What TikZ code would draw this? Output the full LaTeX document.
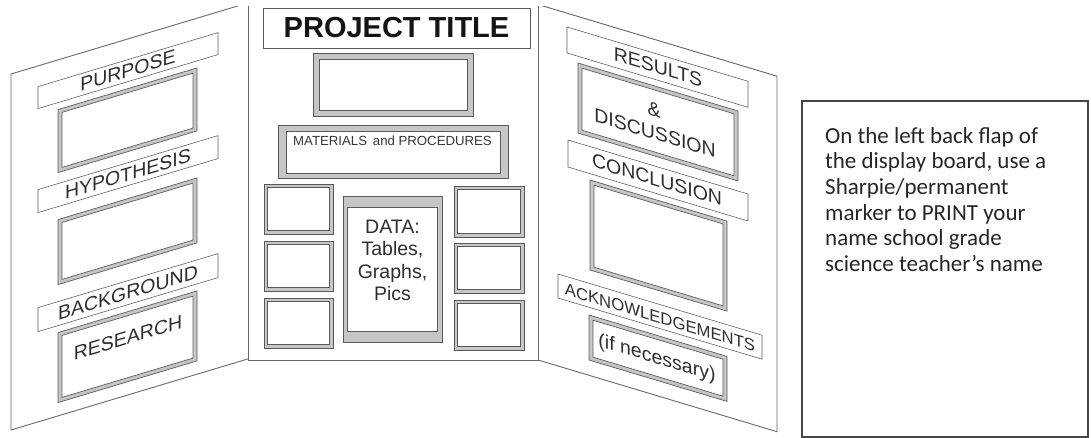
\documentclass[tikz,border=0pt]{standalone}
\usepackage{fontspec}
\setmainfont{Liberation Sans}
\newfontfamily\notefont{Carlito}

% A display frame: a grey band between an outer and an inner outline
\newcommand\boardframe[5]{%
  \path[band] (#1,#2) rectangle (#3,#4);
  \path[well] (#1+#5,#2+#5) rectangle (#3-#5,#4-#5);}

\begin{document}
\begin{tikzpicture}[x=1pt,y=-1pt,
  edge/.style={draw=gray!80!black, line width=0.9pt},
  bar/.style={draw=gray!75!black, line width=0.6pt, fill=white},
  band/.style={draw=gray!70!black, line width=0.7pt, fill=gray!45},
  well/.style={draw=gray!70!black, line width=0.7pt, fill=white},
  tag/.style={font=\fontsize{19.5}{22}\selectfont, text=black!82, inner sep=0pt, transform shape},
  notetext/.style={font=\notefont\fontsize{23}{25.6}\selectfont, text=black!85, inner sep=0pt, anchor=base west},
]
\useasboundingbox (0,0) rectangle (1091,438);

\begin{scope}
  \clip (0,7) rectangle (1091,438);
  % left wing of the board
  \begin{scope}[shift={(11,0)}, yslant=0.3]
    \draw[edge] (237,74) -- (0,74) -- (0,430) -- (237,430);
  \end{scope}
  % centre panel
  \draw[edge] (248,0) -- (248,360) -- (538,360) -- (538,0);
  % right wing of the board
  \begin{scope}[shift={(538,0)}, yslant=-0.3]
    \draw[edge] (0,4.5) -- (239,4.5) -- (239,360) -- (0,360);
  \end{scope}
\end{scope}

% ---- left wing: purpose, hypothesis, background research
\begin{scope}[shift={(11,0)}, yslant=0.3]
  \path[bar] (27,94.7) rectangle (207,116.7);
  \node[tag] (purpose) at (117,105.7) {PURPOSE};
  \boardframe{47}{123.7}{186}{186.7}{4}
  \path[bar] (27,197.7) rectangle (207,220.7);
  \node[tag] (hypothesis) at (117,209.2) {HYPOTHESIS};
  \boardframe{47}{233.7}{186}{298.7}{4}
  \path[bar] (27,315.7) rectangle (207,339.7);
  \node[tag] (background) at (117,327.7) {BACKGROUND};
  \boardframe{47}{346.7}{186}{416.7}{4}
  \node[tag] (research) at (117,372.7) {RESEARCH};
\end{scope}

% ---- centre panel
\node[draw=gray!70!black, line width=0.8pt, minimum width=267pt, minimum height=40pt,
      inner sep=0pt, font=\fontsize{29}{32}\selectfont\bfseries, text=black!92]
      (title) at (396.5,28) {PROJECT TITLE};
\boardframe{313}{53}{473}{116}{6}
\path[band] (278,125) rectangle (508,178);
\path[well] (286,131) rectangle (500,173);
\node[font=\fontsize{13.2}{15}\selectfont, text=black!78, inner sep=0pt]
      (materials) at (392.5,140.5) {MATERIALS\, and PROCEDURES};
\boardframe{264}{184}{333}{234}{3.5}
\boardframe{264}{241}{333}{291}{3.5}
\boardframe{264}{298}{333}{348}{3.5}
\boardframe{454}{186}{524}{237}{3.5}
\boardframe{454}{243}{524}{293}{3.5}
\boardframe{454}{300}{524}{350}{3.5}
\path[band] (343,196) rectangle (442,342);
\path[well] (347,207) rectangle (437,331);
\node[align=center, font=\fontsize{19.5}{22.3}\selectfont, text=black!82, inner sep=0pt]
      (data) at (392.5,260.5) {DATA:\\Tables,\\Graphs,\\Pics};

% ---- right wing: results, conclusion, acknowledgements
\begin{scope}[shift={(538,0)}, yslant=-0.3]
  \path[bar] (29,18.3) rectangle (210,44.3);
  \node[tag] (results) at (120,31) {RESULTS};
  \boardframe{40}{51}{200}{121}{4}
  \node[tag] (amp) at (116,75) {\&};
  \node[tag] (discussion) at (117,98) {DISCUSSION};
  \path[bar] (30,131) rectangle (210,158);
  \node[tag] (conclusion) at (119,144) {CONCLUSION};
  \boardframe{52}{164.4}{189}{254.4}{4}
  \boardframe{51}{299.7}{189}{344.7}{4}
  \node[tag] (ifnecessary) at (119,323) {(if necessary)};
  \path[bar] (20,268) rectangle (224,292);
  \node[tag, font=\fontsize{16.7}{19}\selectfont] (ack) at (122,281) {ACKNOWLEDGEMENTS};
\end{scope}

% ---- note beside the board
\draw[draw=gray!55!black, line width=1.1pt] (802,101) rectangle (1088,437);
\foreach \line [count=\i] in {On the left back flap of,
    the display board{,} use a,
    Sharpie/permanent,
    marker to PRINT your,
    name school grade,
    science teacher’s name}
  \node[notetext] (note\i) at (825,{143.3+(\i-1)*25.6}) {\line};
\end{tikzpicture}
\end{document}
